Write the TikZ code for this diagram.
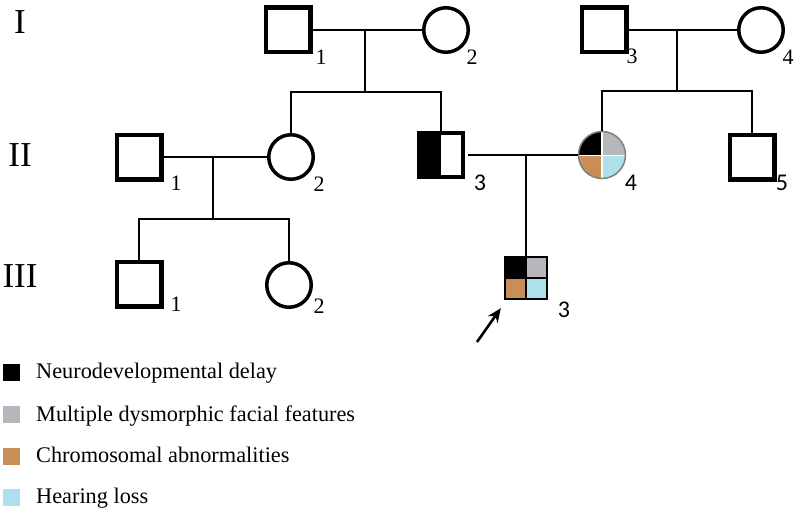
\documentclass[tikz,border=0pt]{standalone}
\usepackage{fontspec}
\setmainfont{Liberation Serif}
\newfontfamily\digitsans{Carlito}
\usepackage{xcolor}
\usepackage{tikz}
\usetikzlibrary{shapes,arrows.meta,positioning,calc}

\definecolor{dysgray}{RGB}{182,182,188}
\definecolor{chrombrown}{RGB}{201,141,88}
\definecolor{hearblue}{RGB}{172,224,234}

\begin{document}
\begin{tikzpicture}[
    x=1pt, y=-1pt,
    male/.style={rectangle, draw=black, line width=4.5pt, minimum size=44.5pt, inner sep=0pt},
    female/.style={circle, draw=black, line width=3.5pt, minimum size=44.5pt, inner sep=0pt},
    link/.style={line width=2.4pt},
    num/.style={font=\fontsize{22}{22}\selectfont, inner sep=0pt},
    numsans/.style={font=\digitsans\fontsize{24}{24}\selectfont, inner sep=0pt},
    gen/.style={font=\fontsize{35}{35}\selectfont, inner sep=0pt},
    key/.style={rectangle, minimum size=17pt, inner sep=0pt},
    legend/.style={font=\fontsize{22.3}{22.3}\selectfont, inner sep=0pt, anchor=base west}
]
\useasboundingbox (0,0) rectangle (796,511);

% Generations
\node[gen] (g1) at (20,22) {I};
\node[gen] (g2) at (20,155) {II};
\node[gen] (g3) at (20,276) {III};

% Generation I
\node[male] (i1) at (288,30) {};
\node[female] (i2) at (446,30) {};
\node[male] (i3) at (604,30) {};
\node[female] (i4) at (761,30) {};

% Generation II
\node[male] (ii1) at (139,157) {};
\node[female] (ii2) at (291,157) {};
\node[male, line width=3.5pt, minimum size=44pt,
      path picture={\fill[black] (path picture bounding box.south west) rectangle (path picture bounding box.north);}] (ii3) at (441,155) {};
\node[circle, draw=gray, line width=1.5pt, minimum size=47pt, inner sep=0pt,
      path picture={
        \fill[black] (path picture bounding box.center) rectangle (path picture bounding box.north west);
        \fill[dysgray] (path picture bounding box.center) rectangle (path picture bounding box.north east);
        \fill[chrombrown] (path picture bounding box.center) rectangle (path picture bounding box.south west);
        \fill[hearblue] (path picture bounding box.center) rectangle (path picture bounding box.south east);
        \draw[white, line width=1.5pt] (path picture bounding box.north) -- (path picture bounding box.south);
        \draw[white, line width=0.8pt] (path picture bounding box.west) -- (path picture bounding box.east);
      }] (ii4) at (602,155) {};
\node[male] (ii5) at (752,157) {};

% Generation III
\node[male] (iii1) at (139,284) {};
\node[female] (iii2) at (289,285) {};
\node[rectangle, draw=black, line width=2.4pt, minimum size=42pt, inner sep=0pt,
      path picture={
        \fill[black] (path picture bounding box.center) rectangle (path picture bounding box.north west);
        \fill[dysgray] (path picture bounding box.center) rectangle (path picture bounding box.north east);
        \fill[chrombrown] (path picture bounding box.center) rectangle (path picture bounding box.south west);
        \fill[hearblue] (path picture bounding box.center) rectangle (path picture bounding box.south east);
        \draw[black, line width=2.4pt] (path picture bounding box.north) -- (path picture bounding box.south);
        \draw[black, line width=2.4pt] (path picture bounding box.west) -- (path picture bounding box.east);
      }] (iii3) at (526,278) {};

% Numbers
\node[num] (ni1) at (321,57) {1};
\node[num] (ni2) at (472,57) {2};
\node[num] (ni3) at (632,56) {3};
\node[num] (ni4) at (788,57) {4};
\node[num] (nii1) at (176,183) {1};
\node[num] (nii2) at (319,184) {2};
\node[numsans] (nii3) at (480,183) {3};
\node[numsans] (nii4) at (631,183) {4};
\node[numsans] (nii5) at (782,183) {5};
\node[num] (niii1) at (176,304) {1};
\node[num] (niii2) at (319,306) {2};
\node[numsans] (niii3) at (564,310) {3};

% Matings and descent
\coordinate (m1) at (365,30);
\coordinate (s1) at (365,92);
\coordinate (m2) at (677,30);
\coordinate (s2) at (677,91);
\coordinate (m3) at (213,157);
\coordinate (s3) at (213,219);
\coordinate (m4) at (526,155);

\draw[link] (i1) -- (i2);
\draw[link] (m1) -- (s1);
\draw[link] (ii2) |- (s1) -| (ii3);

\draw[link] (i3) -- (i4);
\draw[link] (m2) -- (s2);
\draw[link] (ii4) |- (s2) -| (ii5);

\draw[link] (ii1) -- (ii2);
\draw[link] (m3) -- (s3);
\draw[link] (iii1) |- (s3) -| (iii2);

\draw[link, shorten <=3pt] (ii3) -- (ii4);
\draw[link] (m4) -- (iii3);

% Proband
\coordinate (tail) at (477,342);
\coordinate (tip) at ($(iii3.south west)+(-3,8)$);
\draw[line width=2.6pt, -{Stealth[length=14pt, width=12pt]}] (tail) -- (tip);

% Legend
\node[key, fill=black] (k1) at (11.5,372) {};
\node[key, fill=dysgray] (k2) at (11.5,414) {};
\node[key, fill=chrombrown] (k3) at (11.5,456) {};
\node[key, fill=hearblue] (k4) at (11.5,497) {};
\node[legend] (l1) at (36,378) {Neurodevelopmental delay};
\node[legend] (l2) at (36,421) {Multiple dysmorphic facial features};
\node[legend] (l3) at (36,462) {Chromosomal abnormalities};
\node[legend] (l4) at (36,503) {Hearing loss};

\end{tikzpicture}
\end{document}
